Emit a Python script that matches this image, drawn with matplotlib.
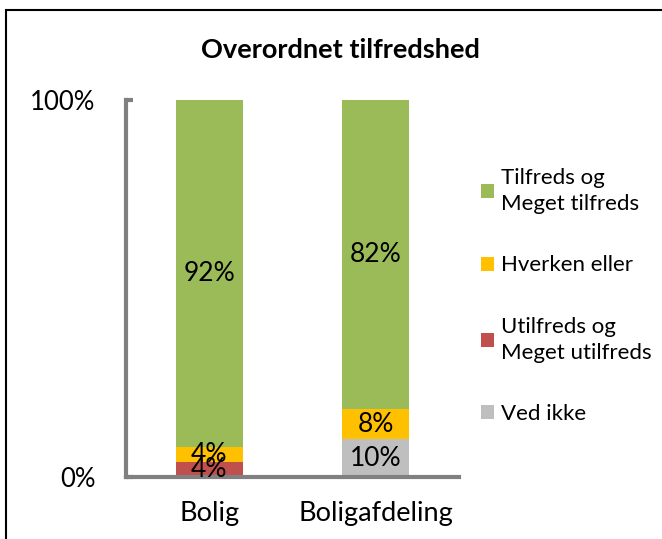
import matplotlib.pyplot as plt
from matplotlib.patches import Rectangle

plt.rcParams['font.family'] = ['Lato', 'DejaVu Sans']

# --- data ---
categories = ['Bolig', 'Boligafdeling']
ved_ikke = [0, 10]
utilfreds = [4, 0]
hverken = [4, 8]
tilfreds = [92, 82]

series = [
    ('Ved ikke', ved_ikke, '#BFBFBF'),
    ('Utilfreds og\nMeget utilfreds', utilfreds, '#C0504D'),
    ('Hverken eller', hverken, '#FFC000'),
    ('Tilfreds og\nMeget tilfreds', tilfreds, '#9BBB59'),
]

fig = plt.figure(figsize=(6.62, 5.39), dpi=100)
ax = fig.add_axes([126 / 662, 1 - 477 / 539, 333 / 662, 377 / 539])

x = list(range(len(categories)))
bottom = [0] * len(categories)
handles = {}
for name, vals, col in series:
    bars = ax.bar(x, vals, 0.4, bottom=bottom, color=col, edgecolor='none', label=name)
    handles[name] = bars
    for xi, v, b in zip(x, vals, bottom):
        if v > 0:
            ax.text(xi, b + v / 2, f'{v}%', ha='center', va='center', fontsize=19, color='black')
    bottom = [b + v for b, v in zip(bottom, vals)]

ax.set_xlim(-0.5, 1.5)
ax.set_ylim(0, 100)
ax.set_yticks([0, 100])
ax.set_yticklabels(['0%', '100%'], fontsize=18.5)
ax.set_xticks(x)
ax.set_xticklabels(categories, fontsize=19.5)

for s in ['top', 'right']:
    ax.spines[s].set_visible(False)
for s in ['left', 'bottom']:
    ax.spines[s].set_color('#808080')
    ax.spines[s].set_linewidth(3)
ax.tick_params(axis='y', direction='in', length=5, width=3, color='#808080', pad=22)
ax.tick_params(axis='x', length=0, pad=17)

# legend in reverse stacking order (top first)
order = ['Tilfreds og\nMeget tilfreds', 'Hverken eller', 'Utilfreds og\nMeget utilfreds', 'Ved ikke']
leg = fig.legend([handles[n] for n in order], order, loc='center left',
                 bbox_to_anchor=(470 / 662, 1 - 296 / 539), frameon=False,
                 fontsize=16, handlelength=0.6, handleheight=0.6,
                 handletextpad=0.3, labelspacing=1.85, borderpad=0)
for t in leg.get_texts():
    t.set_linespacing(1.4)

fig.text(340 / 662, 1 - 50 / 539, 'Overordnet tilfredshed', ha='center', va='center',
         fontsize=19.5, fontweight='bold')

# chart area border
fig.patches.append(Rectangle((6 / 662, -0.1), 1.2, 1 - 10 / 539 + 0.1,
                             transform=fig.transFigure, fill=False,
                             edgecolor='black', linewidth=1.5))

fig.savefig('out.png', dpi=100)
